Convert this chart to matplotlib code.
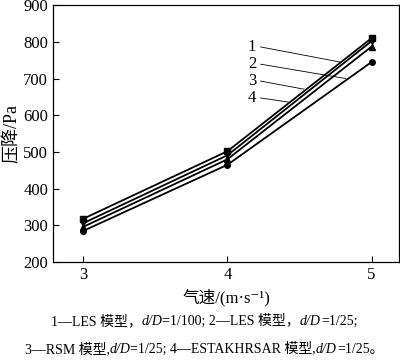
"""
Pressure drop vs gas velocity for four models
"""
import matplotlib
matplotlib.use('Agg')
import matplotlib.pyplot as plt

FONTS = ['Liberation Serif', 'Noto Sans CJK SC', 'DejaVu Serif']
plt.rcParams['font.family'] = FONTS

# data
velocity = [3, 4, 5]
les_100 = [318, 502, 810]
les_25 = [306, 491, 802]
rsm_25 = [296, 480, 787]
estak_25 = [285, 465, 745]

series = [les_100, les_25, rsm_25, estak_25]
markers = ['s', 'v', '^', 'o']
labels = ['1', '2', '3', '4']

# label text position and leader end point (data coords)
label_pos = [(4.17, 786), (4.17, 739), (4.17, 693), (4.17, 647)]
leader_end = [(4.78, 745), (4.82, 700), (4.53, 671), (4.42, 636)]

fig = plt.figure(figsize=(4.0, 3.63), dpi=100)
ax = fig.add_axes([0.1325, 0.278, 0.865, 0.708])

for vals, m in zip(series, markers):
    ax.plot(velocity, vals, color='black', linewidth=1.3, marker=m, markersize=4)

for lab, (tx, ty), (ex, ey) in zip(labels, label_pos, leader_end):
    ax.text(tx, ty, lab, fontsize=12, ha='center', va='center')
    ax.plot([tx + 0.06, ex], [ty, ey], color='black', linewidth=0.6)

ax.set_xlim(2.79, 5.19)
ax.set_ylim(200, 900)
ax.set_xticks([3, 4, 5])
ax.set_yticks(range(200, 901, 100))
ax.tick_params(direction='in', labelsize=12, length=4, width=0.8, top=False, right=False)
for sp in ax.spines.values():
    sp.set_linewidth(0.9)

ax.set_xlabel('气速/(m·s⁻¹)', fontsize=12, labelpad=4)
ax.set_ylabel('压降/Pa', fontsize=13, labelpad=2)


def draw_segments(y, segs, size):
    """Draw a caption line made of (text, style) pieces, centered"""
    renderer = fig.canvas.get_renderer()
    texts = [fig.text(0, y, s, fontsize=size, style=st, va='baseline',
                      transform=None) for s, st in segs]
    widths = [t.get_window_extent(renderer).width for t in texts]
    x = (fig.bbox.width - sum(widths)) / 2 + 4
    for t, w in zip(texts, widths):
        t.set_position((x, y))
        x += w


H = fig.bbox.height
line1 = [('1—LES 模型，', 'normal'), ('d/D', 'italic'), ('=1/100; 2—LES 模型，', 'normal'),
         ('d/D', 'italic'), ('=1/25;', 'normal')]
line2 = [('3—RSM 模型,', 'normal'), ('d/D', 'italic'), ('=1/25; 4—ESTAKHRSAR 模型,', 'normal'),
         ('d/D', 'italic'), ('=1/25。', 'normal')]
draw_segments(H - 325, line1, 10)
draw_segments(H - 353, line2, 10)

fig.savefig('out.png', dpi=100)
